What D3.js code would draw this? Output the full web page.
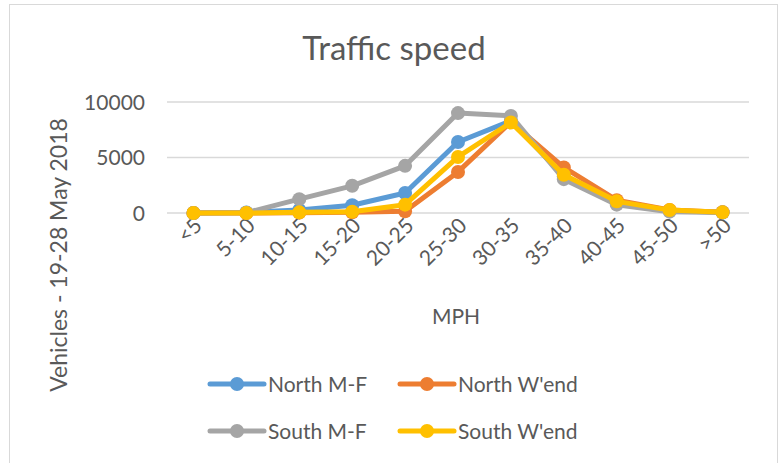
<!DOCTYPE html>
<html>
<head>
<meta charset="utf-8">
<script src="https://cdn.jsdelivr.net/npm/d3@7/dist/d3.min.js"></script>
<style>
  body { margin: 0; background: #fff; }
  svg text { font-family: Lato, "Open Sans", sans-serif; fill: #595959; }
</style>
</head>
<body>
<svg id="chart"></svg>
<script>
// speed bands
var categories = ["<5", "5-10", "10-15", "15-20", "20-25", "25-30", "30-35", "35-40", "40-45", "45-50", ">50"];
var seriesNames = ["North M-F", "North W'end", "South M-F", "South W'end"];
var northMF   = [0, 50, 280, 700, 1800, 6400, 8300, 3300, 900, 200, 60];
var northWend = [0, 0, 30, 60, 150, 3700, 8200, 4100, 1150, 280, 70];
var southMF   = [0, 30, 1250, 2450, 4250, 9000, 8750, 3050, 750, 120, 40];
var southWend = [0, 0, 60, 120, 750, 5050, 8150, 3450, 1050, 260, 60];
var yTicks = [0, 5000, 10000];
var colors = ["#5b9bd5", "#ed7d31", "#a5a5a5", "#ffc000"];

var W = 779, H = 463;
var svg = d3.select("#chart").attr("width", W).attr("height", H);

// outer frame
svg.append("rect")
   .attr("x", 9.5).attr("y", 4.5)
   .attr("width", 768).attr("height", 470)
   .attr("fill", "#fff").attr("stroke", "#d9d9d9");

var x = d3.scaleBand().domain(categories).range([167, 749]);
var y = d3.scaleLinear().domain([0, 10000]).range([213, 102]);

// gridlines
svg.append("g").selectAll("line").data(yTicks).join("line")
   .attr("x1", 167).attr("x2", 749)
   .attr("y1", d => y(d)).attr("y2", d => y(d))
   .attr("stroke", "#d9d9d9").attr("stroke-width", 1.3);

// y tick labels
svg.append("g").selectAll("text").data(yTicks).join("text")
   .attr("x", 145).attr("y", d => y(d))
   .attr("dy", "0.36em")
   .attr("text-anchor", "end")
   .style("font-size", "21px")
   .text(d => d);

// x tick labels, rotated
svg.append("g").selectAll("text").data(categories).join("text")
   .attr("transform", d => "translate(" + (x(d) + x.bandwidth() / 2 + 10) + ",227) rotate(-45)")
   .attr("text-anchor", "end")
   .style("font-size", "21px")
   .text(d => d);

// titles
svg.append("text")
   .attr("x", 394).attr("y", 60)
   .attr("text-anchor", "middle")
   .style("font-size", "33px")
   .text("Traffic speed");

svg.append("text")
   .attr("x", 456).attr("y", 324)
   .attr("text-anchor", "middle")
   .style("font-size", "21px")
   .text("MPH");

svg.append("text")
   .attr("transform", "translate(67,255) rotate(-90)")
   .attr("text-anchor", "middle")
   .style("font-size", "23px")
   .text("Vehicles - 19-28 May 2018");

// series
var series = [northMF, northWend, southMF, southWend];
var line = d3.line()
   .x((d, i) => x(categories[i]) + x.bandwidth() / 2)
   .y(d => y(d));

series.forEach(function (vals, s) {
    var g = svg.append("g");
    g.append("path")
     .attr("d", line(vals))
     .attr("fill", "none")
     .attr("stroke", colors[s])
     .attr("stroke-width", 5)
     .attr("stroke-linejoin", "round")
     .attr("stroke-linecap", "round");
    g.selectAll("circle").data(vals).join("circle")
     .attr("cx", (d, i) => x(categories[i]) + x.bandwidth() / 2)
     .attr("cy", d => y(d))
     .attr("r", 7)
     .attr("fill", colors[s]);
});

// legend
var legendPos = [[210, 384], [400, 384], [210, 431], [400, 431]];
seriesNames.forEach(function (name, s) {
    var p = legendPos[s];
    var g = svg.append("g").attr("transform", "translate(" + p[0] + "," + p[1] + ")");
    g.append("line")
     .attr("x1", 0).attr("x2", 54)
     .attr("stroke", colors[s]).attr("stroke-width", 5)
     .attr("stroke-linecap", "round");
    g.append("circle").attr("cx", 27).attr("r", 7).attr("fill", colors[s]);
    g.append("text")
     .attr("x", 58).attr("dy", "0.36em")
     .style("font-size", "21px")
     .text(name);
});
</script>
</body>
</html>
